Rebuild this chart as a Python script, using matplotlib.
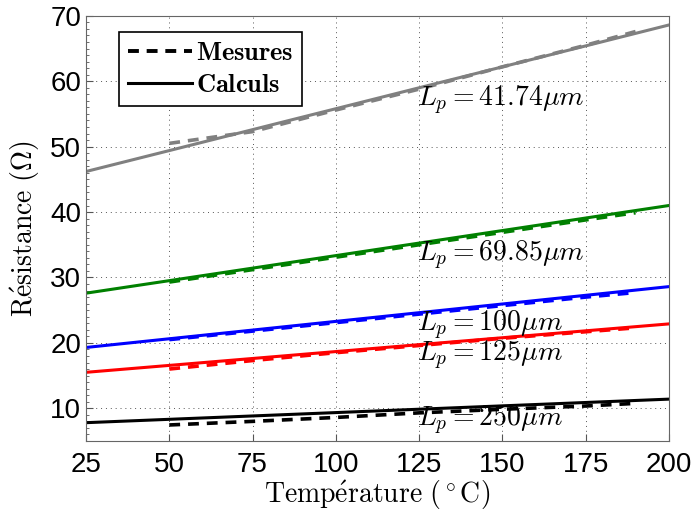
import numpy as np
import matplotlib
matplotlib.use('Agg')
import matplotlib.pyplot as mpl
from matplotlib.ticker import MultipleLocator
from matplotlib.lines import Line2D

########################################################################################
# DATA
########################################################################################

T_calc = [25, 200]
T_meas = [50, 75, 100, 125, 150, 175, 190]

calc_41 = [46.2, 68.6]
meas_41 = [50.5, 52.3, 55.6, 58.8, 62.2, 65.5, 67.6]

calc_70 = [27.6, 41.0]
meas_70 = [29.3, 31.2, 33.1, 35.0, 36.9, 38.8, 39.9]

calc_100 = [19.3, 28.6]
meas_100 = [20.5, 21.8, 23.1, 24.4, 25.7, 27.0, 27.7]

calc_125 = [15.5, 22.9]
meas_125 = [16.0, 17.3, 18.5, 19.6, 20.7, 21.7, 22.3]

calc_250 = [7.8, 11.4]
meas_250 = [7.45, 8.0, 8.6, 9.3, 9.85, 10.35, 10.75]

series = [
    (calc_41, meas_41, 'gray', r'$L_p=41.74\mu m$', 57.1),
    (calc_70, meas_70, 'green', r'$L_p=69.85\mu m$', 33.4),
    (calc_100, meas_100, 'blue', r'$L_p=100\mu m$', 22.7),
    (calc_125, meas_125, 'red', r'$L_p=125\mu m$', 18.1),
    (calc_250, meas_250, 'black', r'$L_p=250\mu m$', 8.2),
]

########################################################################################
# PLOT
########################################################################################

mpl.rcParams['mathtext.fontset'] = 'cm'
mpl.rcParams['font.family'] = ['Liberation Sans', 'DejaVu Sans']

fig = mpl.figure(figsize=(6.96, 5.11), dpi=100)
ax1 = fig.add_axes([0.1236, 0.137, 0.8374, 0.832])

for calc, meas, col, lab, ytxt in series:
    ax1.plot(T_meas, meas, '--', color=col, linewidth=2.6, dashes=(3, 2.2))
    ax1.plot(T_calc, calc, '-', color=col, linewidth=2.2)
    ax1.text(124.5, ytxt, lab, fontsize=20, va='center', ha='left')

ax1.set_xlim(25, 200)
ax1.set_ylim(5, 70)
ax1.set_xticks([25, 50, 75, 100, 125, 150, 175, 200])
ax1.set_yticks([10, 20, 30, 40, 50, 60, 70])
ax1.yaxis.set_minor_locator(MultipleLocator(1))
ax1.tick_params(which='both', direction='in', labelsize=20, colors='#555555', labelcolor='black')
ax1.tick_params(which='major', length=5)
ax1.tick_params(which='minor', length=2.5)
ax1.tick_params(axis='x', pad=8)
for s in ax1.spines.values():
    s.set_color('#666666')
ax1.grid(True, linestyle=(0, (1, 4)), color='#555555', linewidth=0.7)

ax1.set_xlabel(r'$\mathrm{Temp\acute{e}rature\ (^\circ C)}$', fontsize=20, labelpad=0)
ax1.set_ylabel(r'$\mathrm{R\acute{e}sistance\ (\Omega)}$', fontsize=20, labelpad=6)

handles = [Line2D([], [], color='black', linestyle='--', linewidth=2.8, dashes=(2.8, 2.0)),
           Line2D([], [], color='black', linestyle='-', linewidth=2.2)]
leg = ax1.legend(handles, [r'$\mathbf{Mesures}$', r'$\mathbf{Calculs}$'], loc='upper left',
                 bbox_to_anchor=(0.057, 0.962), fontsize=19, fancybox=False, framealpha=1,
                 edgecolor='black', handlelength=2.4, handletextpad=0.15, borderpad=0.35,
                 labelspacing=0.3, borderaxespad=0)
leg.get_frame().set_linewidth(1.2)

fig.savefig('out.png', dpi=100)
